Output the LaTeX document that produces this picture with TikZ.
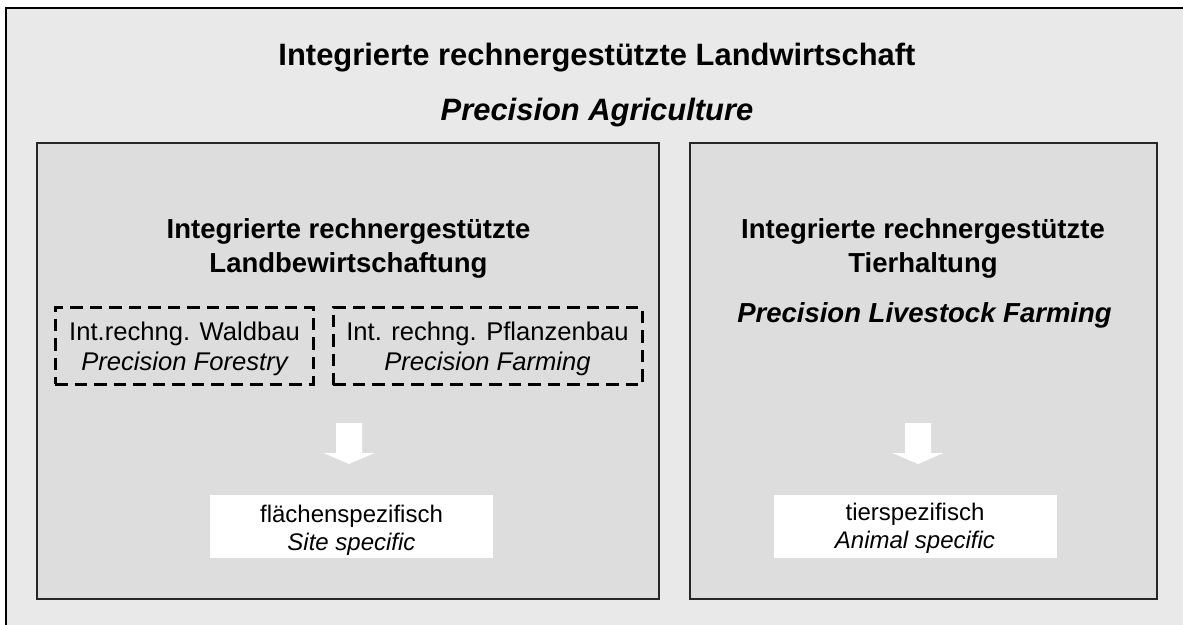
\documentclass[tikz,border=0pt]{standalone}
\usepackage{fontspec}
\setmainfont{Liberation Sans}
\definecolor{outerbg}{HTML}{E9E9E9}
\definecolor{panelbg}{HTML}{DDDDDD}
\begin{document}
\begin{tikzpicture}[x=1pt,y=-1pt,
	panel/.style={draw=black!85,line width=1.5pt,fill=panelbg,inner sep=0pt},
	dashbox/.style={draw=black,line width=3pt,dash pattern=on 12.5pt off 7pt,minimum height=77pt,inner sep=0pt},
	whitebox/.style={fill=white,minimum width=283pt,minimum height=63pt,inner sep=0pt},
	titletxt/.style={font=\fontsize{30.9}{36}\selectfont\bfseries,anchor=base,inner sep=0pt},
	headtxt/.style={font=\fontsize{27.5}{34}\selectfont\bfseries,anchor=base,inner sep=0pt},
	subtxt/.style={font=\fontsize{25.6}{30}\selectfont,anchor=base,inner sep=0pt},
	spectxt/.style={font=\fontsize{24}{28}\selectfont,anchor=base,inner sep=0pt}]
	\useasboundingbox (0,0) rectangle (1183,624);
	\fill[white] (0,0) rectangle (1183,624);
	\draw[fill=outerbg,line width=2pt] (6,8) rectangle (1195,640);
	\node[titletxt] (title) at (597,65) {Integrierte rechnergestützte Landwirtschaft};
	\node[titletxt] (titleen) at (597,120) {\itshape Precision Agriculture};
	\node[panel,minimum width=622pt,minimum height=456pt] (land) at (348,371) {};
	\node[panel,minimum width=467pt,minimum height=456pt] (tier) at (923.5,371) {};
	\node[headtxt] (landa) at (348.5,238) {Integrierte rechnergestützte};
	\node[headtxt] (landb) at (348.5,272) {Landbewirtschaftung};
	\node[headtxt] (tiera) at (923,238) {Integrierte rechnergestützte};
	\node[headtxt] (tierb) at (923,272) {Tierhaltung};
	\node[headtxt] (tieren) at (924.5,322) {\itshape Precision Livestock Farming};
	\node[dashbox,minimum width=258pt] (wald) at (184,345.5) {};
	\node[dashbox,minimum width=309pt] (pflanz) at (487.5,346) {};
	\node[subtxt] (walda) at (184.5,340) {Int.rechng. Waldbau};
	\node[subtxt] (waldb) at (184.5,370) {\itshape Precision Forestry};
	\node[subtxt] (pflanza) at (487.5,340) {Int. rechng. Pflanzenbau};
	\node[subtxt] (pflanzb) at (487.5,370) {\itshape Precision Farming};
	\node[whitebox] (site) at (351.5,526.5) {};
	\node[whitebox] (animal) at (915,526) {};
	\node[spectxt] (sitea) at (351.5,522) {flächenspezifisch};
	\node[spectxt] (siteb) at (351.5,550) {\itshape Site specific};
	\node[spectxt] (animala) at (915,520) {tierspezifisch};
	\node[spectxt] (animalb) at (915,548) {\itshape Animal specific};
	\foreach \ax in {349,918}
		\fill[white] (\ax-13,423) -- (\ax+13,423) -- (\ax+13,453) -- (\ax+25.5,453) -- (\ax,464) -- (\ax-25.5,453) -- (\ax-13,453) -- cycle;
\end{tikzpicture}
\end{document}
